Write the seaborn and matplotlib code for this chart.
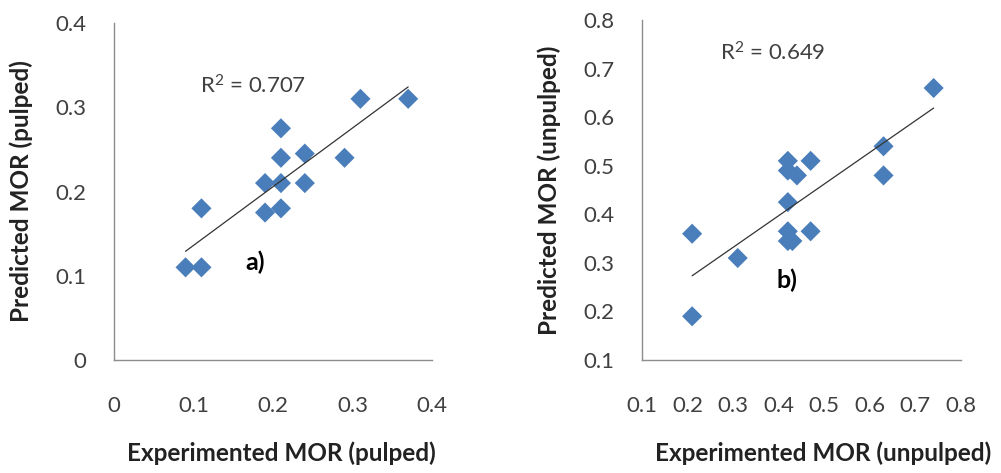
import numpy as np
import pandas as pd
import matplotlib
matplotlib.use("Agg")
import matplotlib.pyplot as plt
import seaborn as sns

# Panel a) pulped
pulped_exp = [0.09, 0.11, 0.11, 0.19, 0.19, 0.21, 0.21, 0.21, 0.21, 0.24, 0.24, 0.29, 0.31, 0.37]
pulped_pred = [0.11, 0.11, 0.18, 0.21, 0.175, 0.21, 0.18, 0.24, 0.275, 0.245, 0.21, 0.24, 0.31, 0.31]
r2_a = r"R$^{2}$ = 0.707"

# Panel b) unpulped
unpulped_exp = [0.21, 0.21, 0.31, 0.42, 0.42, 0.44, 0.47, 0.42, 0.42, 0.42, 0.43, 0.47, 0.63, 0.63, 0.74]
unpulped_pred = [0.36, 0.19, 0.31, 0.51, 0.49, 0.48, 0.51, 0.425, 0.365, 0.345, 0.345, 0.365, 0.54, 0.48, 0.66]
r2_b = r"R$^{2}$ = 0.649"

xticks_a = [0, 0.1, 0.2, 0.3, 0.4]
yticks_a = [0, 0.1, 0.2, 0.3, 0.4]
xticks_b = [0.1, 0.2, 0.3, 0.4, 0.5, 0.6, 0.7, 0.8]
yticks_b = [0.1, 0.2, 0.3, 0.4, 0.5, 0.6, 0.7, 0.8]

sns.set_theme(style="white")
plt.rcParams['font.family'] = ['Lato', 'DejaVu Sans']
plt.rcParams['mathtext.fontset'] = 'custom'
plt.rcParams['mathtext.rm'] = 'Lato'
plt.rcParams['mathtext.it'] = 'Lato'
plt.rcParams['mathtext.default'] = 'regular'

blue = "#4a7ebb"
tick_col = "#404040"
spine_col = "#8c8c8c"

fig = plt.figure(figsize=(10.01, 4.73), dpi=100)
ax_a = fig.add_axes([114/1001, 113/473, 318/1001, 337/473])
ax_b = fig.add_axes([642/1001, 113/473, 319/1001, 340/473])

df_a = pd.DataFrame({"x": pulped_exp, "y": pulped_pred})
df_b = pd.DataFrame({"x": unpulped_exp, "y": unpulped_pred})

for ax, df, xt, yt, xl, yl, xlx in [
    (ax_a, df_a, xticks_a, yticks_a, "Experimented MOR (pulped)", "Predicted MOR (pulped)", 0.527),
    (ax_b, df_b, xticks_b, yticks_b, "Experimented MOR (unpulped)", "Predicted MOR (unpulped)", 0.569),
]:
    sns.regplot(data=df, x="x", y="y", ax=ax, ci=None, truncate=True,
                marker="D",
                scatter_kws=dict(s=105, color=blue, edgecolors="none", alpha=1, zorder=3),
                line_kws=dict(color="#333333", lw=0.9, zorder=4))
    ax.set_xlim(xt[0], xt[-1])
    ax.set_ylim(yt[0], yt[-1])
    ax.set_xticks(xt)
    ax.set_yticks(yt)
    ax.set_xticklabels([f"{v:g}" for v in xt])
    ax.set_yticklabels([f"{v:g}" for v in yt])
    ax.tick_params(axis="both", length=0, labelsize=16, labelcolor=tick_col)
    ax.tick_params(axis="x", pad=26)
    ax.tick_params(axis="y", pad=20)
    for s in ["top", "right"]:
        ax.spines[s].set_visible(False)
    for s in ["left", "bottom"]:
        ax.spines[s].set_color(spine_col)
        ax.spines[s].set_linewidth(1.0)
    ax.set_xlabel(xl, fontsize=17.5, fontweight="bold", color="#222222", labelpad=18, x=xlx)
    ax.set_ylabel(yl, fontsize=17.5, fontweight="bold", color="#222222", labelpad=16)
    ax.patch.set_alpha(0)

ax_a.text(0.108, 0.325, r2_a, fontsize=16, color=tick_col, va="center", ha="left")
ax_a.text(0.165, 0.116, "a)", fontsize=18, fontweight="bold", color="black", va="center", ha="left")
ax_b.text(0.271, 0.732, r2_b, fontsize=16, color=tick_col, va="center", ha="left")
ax_b.text(0.396, 0.265, "b)", fontsize=18, fontweight="bold", color="black", va="center", ha="left")

fig.savefig("out.png", dpi=100)
